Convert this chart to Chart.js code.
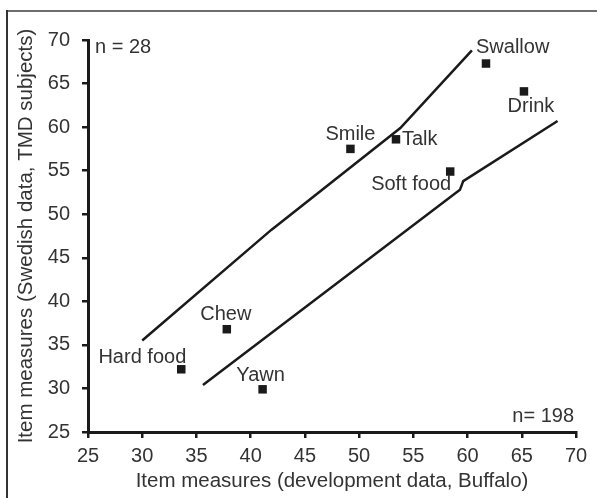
<!DOCTYPE html>
<html>
<head>
<meta charset="utf-8">
<script src="https://cdn.jsdelivr.net/npm/chart.js@4/dist/chart.umd.min.js"></script>
<style>
  html, body { margin: 0; padding: 0; background: #fff; }
  #wrap { position: relative; width: 597px; height: 498px; }
</style>
</head>
<body>
<div id="wrap"><canvas id="c" width="597" height="498"></canvas></div>
<script>
// ---- data ----
const itemNames = ["Hard food", "Chew", "Yawn", "Smile", "Talk", "Soft food", "Swallow", "Drink"];
const buffaloMeasures = [33.6, 37.8, 41.1, 49.2, 53.4, 58.4, 61.7, 65.2];
const swedishMeasures = [32.2, 36.8, 29.9, 57.5, 58.6, 54.9, 67.3, 64.1];

const upperLineX = [30.0, 41.9, 53.8, 60.4];
const upperLineY = [35.5, 48.2, 59.9, 68.8];
const lowerLineX = [35.6, 59.3, 59.6, 68.3];
const lowerLineY = [30.4, 52.8, 53.8, 60.7];

const axisTicks = [25, 30, 35, 40, 45, 50, 55, 60, 65, 70];
const xTitle = "Item measures (development data, Buffalo)";
const yTitle = "Item measures (Swedish data, TMD subjects)";
const noteTop = "n = 28";
const noteBottom = "n= 198";

// ---- label placement (style) ----
const labelStyle = {
  "Hard food": { align: "right",  dx: 5,  dy: -12 },
  "Chew":      { align: "center", dx: -1, dy: -15 },
  "Yawn":      { align: "center", dx: -2, dy: -14 },
  "Smile":     { align: "center", dx: 0,  dy: -14 },
  "Talk":      { align: "left",   dx: 6,  dy: 0 },
  "Soft food": { align: "right",  dx: 1,  dy: 13 },
  "Swallow":   { align: "left",   dx: -10, dy: -16 },
  "Drink":     { align: "center", dx: 7,  dy: 15 }
};

const FONT = "'Liberation Sans', Arial, Helvetica, sans-serif";
const TEXT = "#333333";
const INK = "#1a1a1a";

const toPts = (xs, ys) => xs.map((x, i) => ({ x: x, y: ys[i] }));

const framePlugin = {
  id: "frame",
  beforeDraw(chart) {
    const ctx = chart.ctx;
    ctx.save();
    ctx.lineWidth = 2;
    ctx.strokeStyle = "#6e6e6e";
    ctx.beginPath(); ctx.moveTo(6, 11); ctx.lineTo(597, 11); ctx.stroke();
    ctx.strokeStyle = "#333";
    ctx.beginPath(); ctx.moveTo(7, 10); ctx.lineTo(7, 498); ctx.stroke();
    ctx.restore();
  }
};

const labelPlugin = {
  id: "labels",
  afterDatasetsDraw(chart) {
    const ctx = chart.ctx;
    const xs = chart.scales.x, ys = chart.scales.y;
    ctx.save();
    ctx.font = "20px " + FONT;
    ctx.fillStyle = TEXT;
    ctx.textBaseline = "middle";
    itemNames.forEach((name, i) => {
      const st = labelStyle[name];
      const px = xs.getPixelForValue(buffaloMeasures[i]);
      const py = ys.getPixelForValue(swedishMeasures[i]);
      ctx.textAlign = st.align;
      ctx.fillText(name, px + st.dx, py + st.dy);
    });
    const ca = chart.chartArea;
    ctx.textAlign = "left";
    ctx.fillText(noteTop, ca.left + 7, ca.top + 7);
    ctx.textAlign = "right";
    ctx.fillText(noteBottom, ca.right - 2, ca.bottom - 16);
    ctx.restore();
  }
};

const axisCommon = {
  type: "linear",
  min: 25, max: 70,
  afterBuildTicks(scale) { scale.ticks = axisTicks.map(v => ({ value: v })); },
  grid: { display: true, drawOnChartArea: false, drawTicks: true, tickLength: 6, color: INK, lineWidth: 2.5 },
  border: { display: true, color: INK, width: 3 },
  ticks: { color: TEXT, font: { family: FONT, size: 20 } },
  title: { display: true, color: TEXT, font: { family: FONT, size: 20.5 } }
};

new Chart(document.getElementById("c"), {
  type: "scatter",
  data: {
    datasets: [
      {
        label: "items",
        data: toPts(buffaloMeasures, swedishMeasures),
        pointStyle: "rect",
        pointRadius: 6,
        backgroundColor: INK,
        borderColor: INK,
        borderWidth: 0,
        order: 0
      },
      {
        label: "upper",
        data: toPts(upperLineX, upperLineY),
        showLine: true,
        pointRadius: 0,
        borderColor: INK,
        borderWidth: 2.5,
        tension: 0,
        order: 1
      },
      {
        label: "lower",
        data: toPts(lowerLineX, lowerLineY),
        showLine: true,
        pointRadius: 0,
        borderColor: INK,
        borderWidth: 2.5,
        tension: 0,
        order: 1
      }
    ]
  },
  options: {
    responsive: false,
    animation: false,
    layout: { padding: { left: 10, top: 40, right: 21, bottom: 0 } },
    plugins: { legend: { display: false }, tooltip: { enabled: false } },
    scales: {
      x: Object.assign({}, axisCommon, {
        position: "bottom",
        ticks: Object.assign({}, axisCommon.ticks, { padding: 6, maxRotation: 0 }),
        title: Object.assign({}, axisCommon.title, { text: xTitle }),
        afterFit(scale) { scale.height = 66; }
      }),
      y: Object.assign({}, axisCommon, {
        position: "left",
        ticks: Object.assign({}, axisCommon.ticks, { padding: 12 }),
        title: Object.assign({}, axisCommon.title, { text: yTitle }),
        afterFit(scale) { scale.width = 78; }
      })
    }
  },
  plugins: [framePlugin, labelPlugin]
});
</script>
</body>
</html>
